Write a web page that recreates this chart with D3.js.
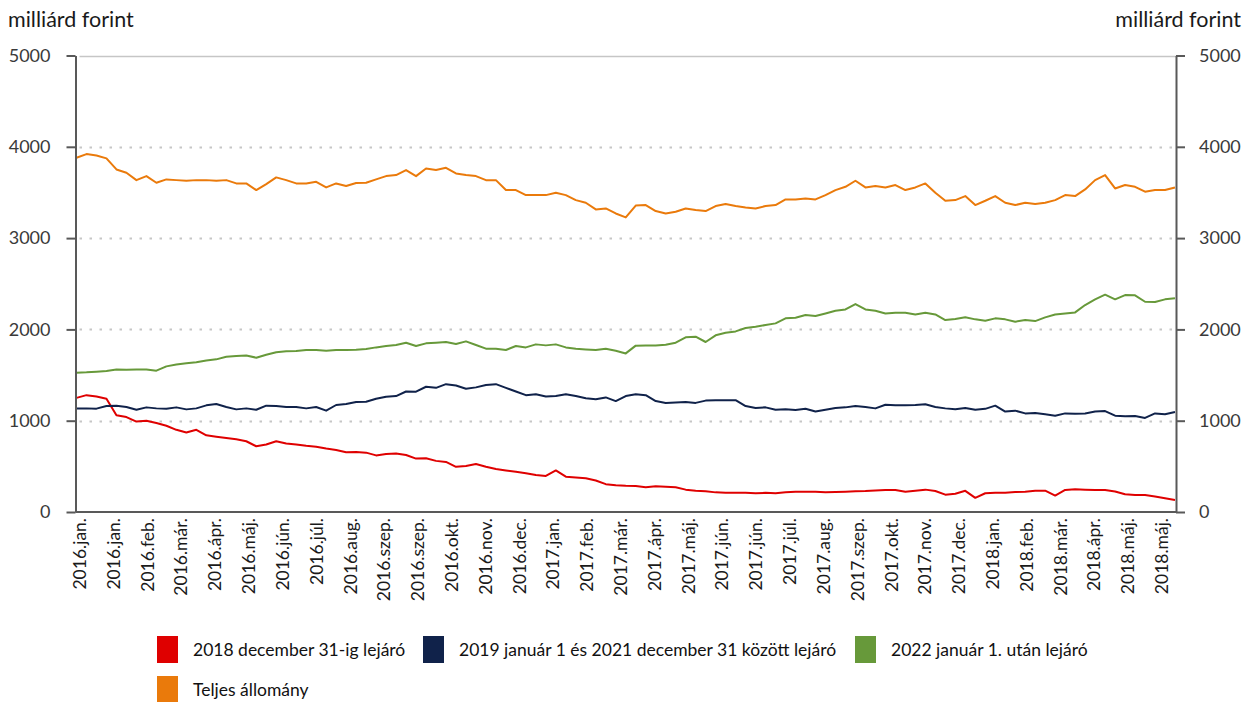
<!DOCTYPE html>
<html>
<head>
<meta charset="utf-8">
<script src="https://cdn.jsdelivr.net/npm/d3@7"></script>
<style>
  body { margin: 0; background: #fff; }
  text { font-family: Lato, "Open Sans", sans-serif; }
</style>
</head>
<body>
<svg id="chart" width="1250" height="702"></svg>
<script>
// Tick labels along the category axis
const tickLabels = [
  "2016.jan.", "2016.jan.", "2016.feb.", "2016.már.", "2016.ápr.", "2016.máj.", "2016.jún.",
  "2016.júl.", "2016.aug.", "2016.szep.", "2016.szep.", "2016.okt.", "2016.nov.", "2016.dec.",
  "2017.jan.", "2017.feb.", "2017.már.", "2017.ápr.", "2017.máj.", "2017.jún.", "2017.jún.",
  "2017.júl.", "2017.aug.", "2017.szep.", "2017.okt.", "2017.nov.", "2017.dec.",
  "2018.jan.", "2018.feb.", "2018.már.", "2018.ápr.", "2018.máj.", "2018.máj."
];

// Outstanding stock by maturity, billion HUF
const lejaro2018 = [
  1250, 1280, 1265, 1240, 1060, 1040, 990, 1000, 975, 945, 900, 870, 900, 840, 825, 810,
  796, 775, 720, 740, 775, 750, 740, 725, 715, 695, 680, 655, 658, 650, 620, 635,
  640, 625, 585, 588, 560, 548, 495, 505, 525, 495, 470, 455, 440, 425, 405, 395,
  455, 387, 378, 370, 345, 305, 292, 287, 285, 272, 282, 277, 270, 245, 234, 228,
  215, 212, 212, 210, 205, 210, 206, 215, 222, 223, 223, 215, 220, 223, 227, 230,
  236, 240, 241, 222, 234, 245, 230, 190, 200, 232, 155, 205, 210, 212, 218, 222,
  234, 234, 180, 241, 248, 245, 241, 241, 225, 195, 186, 186, 170, 150, 131
];

const lejaro2019_2021 = [
  1135, 1135, 1132, 1160, 1165, 1150, 1120, 1146, 1135, 1130, 1146, 1124, 1135, 1168, 1183, 1150,
  1124, 1135, 1120, 1165, 1160, 1150, 1150, 1135, 1150, 1110, 1172, 1183, 1205, 1208, 1240, 1263,
  1270, 1320, 1318, 1372, 1360, 1400, 1385, 1350, 1365, 1391, 1400, 1360, 1320, 1280, 1290, 1265,
  1270, 1290, 1270, 1245, 1234, 1255, 1215, 1270, 1290, 1280, 1215, 1195, 1200, 1205, 1195, 1220,
  1225, 1225, 1225, 1160, 1140, 1146, 1120, 1125, 1117, 1130, 1100, 1120, 1140, 1146, 1160, 1150,
  1135, 1175, 1170, 1168, 1172, 1180, 1150, 1135, 1125, 1140, 1120, 1130, 1165, 1100, 1110, 1080,
  1085, 1070, 1055, 1080, 1075, 1080, 1100, 1105, 1055, 1048, 1051, 1030, 1080, 1070, 1095
];

const lejaro2022 = [
  1526, 1530, 1537, 1545, 1562, 1558, 1562, 1560, 1548, 1595, 1615, 1628, 1640, 1660, 1672, 1701,
  1708, 1715, 1690, 1722, 1750, 1760, 1763, 1774, 1774, 1765, 1774, 1774, 1776, 1785, 1803, 1818,
  1829, 1854, 1818, 1847, 1854, 1862, 1840, 1869, 1829, 1789, 1789, 1774, 1818, 1803, 1836, 1825,
  1836, 1803, 1789, 1781, 1774, 1789, 1767, 1737, 1822, 1825, 1825, 1832, 1854, 1913, 1920, 1862,
  1935, 1964, 1978, 2015, 2029, 2048, 2066, 2121, 2128, 2157, 2146, 2175, 2205, 2219, 2278, 2219,
  2205, 2175, 2183, 2183, 2164, 2183, 2164, 2102, 2113, 2132, 2110, 2095, 2121, 2110, 2084, 2102,
  2091, 2132, 2164, 2175, 2186, 2267, 2329, 2380, 2329, 2376, 2373, 2303, 2300, 2329, 2340
];

const teljes = [
  3880, 3920, 3905, 3873, 3752, 3716, 3635, 3679, 3606, 3643, 3635, 3628, 3635, 3635, 3628, 3635,
  3599, 3599, 3526, 3592, 3665, 3635, 3599, 3599, 3617, 3555, 3599, 3570, 3603, 3606, 3643, 3679,
  3690, 3745, 3679, 3763, 3745, 3770, 3708, 3690, 3679, 3635, 3635, 3526, 3526, 3471, 3471, 3471,
  3497, 3471, 3416, 3387, 3314, 3325, 3270, 3227, 3356, 3362, 3296, 3270, 3289, 3325, 3307, 3296,
  3351, 3373, 3351, 3336, 3325, 3351, 3362, 3424, 3424, 3435, 3424, 3471, 3526, 3562, 3628, 3555,
  3570, 3555, 3581, 3526, 3555, 3599, 3497, 3409, 3416, 3460, 3362, 3409, 3460, 3387, 3362, 3387,
  3373, 3387, 3416, 3471, 3460, 3533, 3635, 3690, 3544, 3581, 3562, 3508, 3526, 3526, 3555
];

const seriesNames = [
  "2018 december 31-ig lejáró",
  "2019 január 1 és 2021 december 31 között lejáró",
  "2022 január 1. után lejáró",
  "Teljes állomány"
];
const seriesValues = [lejaro2018, lejaro2019_2021, lejaro2022, teljes];
const seriesColors = ["#df0000", "#10224a", "#67993a", "#ea7a0b"];
const yTicks = [0, 1000, 2000, 3000, 4000, 5000];
const unitLabel = "milliárd forint";

const svg = d3.select("#chart");
const plot = { left: 75.5, right: 1176, top: 55.5, bottom: 512 };
const n = teljes.length;

const x = d3.scaleLinear().domain([0, n - 1]).range([plot.left + 1, plot.right - 1]);
const y = d3.scaleLinear().domain([0, 5000]).range([plot.bottom, plot.top]);
const xTick = d3.scalePoint().domain(d3.range(tickLabels.length)).range([80, 1162]);

// Horizontal gridlines: dotted inside, solid at the top
svg.append("g")
  .selectAll("line")
  .data(yTicks.filter(v => v > 0))
  .join("line")
  .attr("x1", plot.left + 4)
  .attr("x2", plot.right)
  .attr("y1", d => Math.round(y(d)) + 0.5)
  .attr("y2", d => Math.round(y(d)) + 0.5)
  .attr("stroke", "#c6c6c6")
  .attr("stroke-width", d => d === 5000 ? 1.5 : 2)
  .attr("stroke-dasharray", d => d === 5000 ? null : "2.5,7.5");

// Series lines
const line = d3.line().x((d, i) => x(i)).y(d => y(d));
svg.append("g")
  .selectAll("path")
  .data(seriesValues)
  .join("path")
  .attr("d", line)
  .attr("fill", "none")
  .attr("stroke", (d, i) => seriesColors[i])
  .attr("stroke-width", 2)
  .attr("stroke-linejoin", "round");

// Value axes on both sides
function styleAxis(g) {
  g.select(".domain").attr("stroke", "#595959").attr("stroke-width", 2);
  g.selectAll(".tick line").attr("stroke", "#595959").attr("stroke-width", 2);
  g.selectAll(".tick text")
    .attr("fill", "#3a3a3a")
    .style("font-size", "18px")
    .style("font-family", "Lato, 'Open Sans', sans-serif");
}

svg.append("g")
  .attr("transform", `translate(${plot.left},0)`)
  .call(d3.axisLeft(y).tickValues(yTicks).tickSize(9).tickSizeOuter(0).tickPadding(16).tickFormat(d3.format("d")))
  .call(styleAxis);

svg.append("g")
  .attr("transform", `translate(${plot.right},0)`)
  .call(d3.axisRight(y).tickValues(yTicks).tickSize(9).tickSizeOuter(0).tickPadding(14).tickFormat(d3.format("d")))
  .call(styleAxis);

// Category axis baseline
svg.append("line")
  .attr("x1", plot.left).attr("x2", plot.right)
  .attr("y1", plot.bottom).attr("y2", plot.bottom)
  .attr("stroke", "#595959").attr("stroke-width", 2);

// Rotated category labels
svg.append("g")
  .selectAll("text")
  .data(tickLabels)
  .join("text")
  .attr("transform", (d, i) => `translate(${xTick(i) + 6},${plot.bottom + 6}) rotate(-90)`)
  .attr("text-anchor", "end")
  .attr("fill", "#1a1a1a")
  .style("font-size", "17.5px")
  .text(d => d);

// Unit labels
svg.append("text").attr("x", 8).attr("y", 27).attr("fill", "#1a1a1a")
  .style("font-size", "21.5px").text(unitLabel);
svg.append("text").attr("x", 1241).attr("y", 27).attr("text-anchor", "end").attr("fill", "#1a1a1a")
  .style("font-size", "21.5px").text(unitLabel);

// Legend
const legendPos = [[157, 636], [423, 636], [855, 636], [157, 676]];
const legend = svg.append("g")
  .selectAll("g")
  .data(seriesNames)
  .join("g")
  .attr("transform", (d, i) => `translate(${legendPos[i][0]},${legendPos[i][1]})`);
legend.append("rect")
  .attr("width", 21).attr("height", 27)
  .attr("fill", (d, i) => seriesColors[i]);
legend.append("text")
  .attr("x", 36).attr("y", 20)
  .attr("fill", "#111")
  .style("font-size", "17.5px")
  .text(d => d);
</script>
</body>
</html>
